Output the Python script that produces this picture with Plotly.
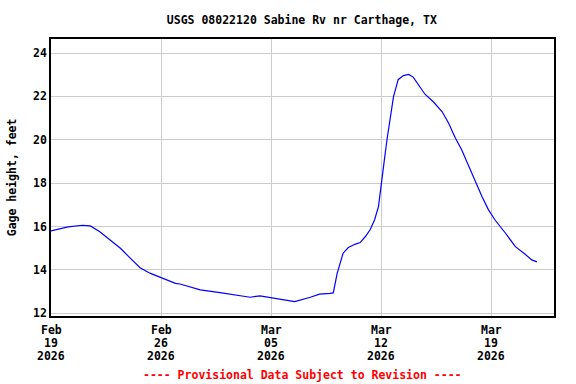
import plotly.graph_objects as go

times = [
    "2026-02-19 00:00", "2026-02-19 14:00", "2026-02-20 02:00", "2026-02-21 00:00",
    "2026-02-21 12:00", "2026-02-22 02:00", "2026-02-22 18:00", "2026-02-23 10:00",
    "2026-02-24 01:00", "2026-02-24 16:00", "2026-02-25 07:00", "2026-02-25 23:00",
    "2026-02-26 22:00", "2026-02-27 05:00", "2026-02-28 12:00", "2026-03-01 18:00",
    "2026-03-03 00:00", "2026-03-03 16:00", "2026-03-04 07:00", "2026-03-05 14:00",
    "2026-03-06 12:00", "2026-03-07 12:00", "2026-03-08 02:00", "2026-03-08 18:00",
    "2026-03-08 23:00", "2026-03-09 05:00", "2026-03-09 10:00", "2026-03-09 14:00",
    "2026-03-09 22:00", "2026-03-10 08:00", "2026-03-10 16:00", "2026-03-11 00:00",
    "2026-03-11 07:00", "2026-03-11 14:00", "2026-03-11 20:00", "2026-03-12 01:00",
    "2026-03-12 05:00", "2026-03-12 09:00", "2026-03-12 14:00", "2026-03-12 19:00",
    "2026-03-13 00:00", "2026-03-13 02:00", "2026-03-13 10:00", "2026-03-13 18:00",
    "2026-03-14 01:00", "2026-03-14 09:00", "2026-03-14 19:00", "2026-03-15 08:00",
    "2026-03-15 21:00", "2026-03-16 07:00", "2026-03-16 17:00", "2026-03-17 03:00",
    "2026-03-17 13:00", "2026-03-18 00:00", "2026-03-18 10:00", "2026-03-18 20:00",
    "2026-03-19 06:00", "2026-03-19 22:00", "2026-03-20 13:00", "2026-03-21 04:00",
    "2026-03-21 14:00", "2026-03-21 22:00",
]
gage_ft = [
    15.80, 15.88, 15.98, 16.06,
    16.03, 15.77, 15.38, 15.00,
    14.54, 14.10, 13.85, 13.66,
    13.38, 13.35, 13.08, 12.95,
    12.80, 12.74, 12.80, 12.65,
    12.54, 12.74, 12.88, 12.92,
    12.94, 13.85, 14.31, 14.77,
    15.03, 15.18, 15.26, 15.54,
    15.84, 16.30, 16.92, 18.00,
    19.07, 20.00, 20.92, 22.00,
    22.54, 22.77, 22.96, 23.01,
    22.89, 22.54, 22.10, 21.74,
    21.30, 20.77, 20.10, 19.54,
    18.84, 18.07, 17.38, 16.77,
    16.30, 15.69, 15.07, 14.72,
    14.46, 14.37,
]

tick_dates = ["2026-02-19", "2026-02-26", "2026-03-05", "2026-03-12", "2026-03-19"]
tick_month = ["Feb", "Feb", "Mar", "Mar", "Mar"]
tick_day = ["19", "26", "05", "12", "19"]
tick_year = ["2026", "2026", "2026", "2026", "2026"]
y_ticks = [12, 14, 16, 18, 20, 22, 24]

FONT = "DejaVu Sans Mono"
FS = 11.5

fig = go.Figure()
fig.add_trace(go.Scatter(x=times, y=gage_ft, mode="lines",
                         line=dict(color="#0000FF", width=1.2), showlegend=False))

annotations = []
for d, m, dd, yy in zip(tick_dates, tick_month, tick_day, tick_year):
    for txt, shift in ((m, -14), (dd, -27), (yy, -40)):
        annotations.append(dict(text="<b>%s</b>" % txt, xref="x", yref="paper",
                                x=d, y=0, yshift=shift, xanchor="center",
                                yanchor="middle", showarrow=False,
                                font=dict(family=FONT, size=FS, color="black")))
annotations.append(dict(text="<b>Gage height, feet</b>", xref="paper", yref="paper",
                        x=-0.078, y=0.5, xanchor="center", yanchor="middle",
                        textangle=-90, showarrow=False,
                        font=dict(family=FONT, size=FS, color="black")))
annotations.append(dict(text="<b>---- Provisional Data Subject to Revision ----</b>",
                        xref="paper", yref="paper", x=0.5, y=0, yshift=-59,
                        xanchor="center", yanchor="middle", showarrow=False,
                        font=dict(family=FONT, size=FS, color="red")))

fig.update_layout(
    width=576, height=384,
    margin=dict(l=51, r=22, t=39, b=68),
    paper_bgcolor="white", plot_bgcolor="white",
    font=dict(family=FONT, size=FS, color="black"),
    title=dict(text="<b>USGS 08022120 Sabine Rv nr Carthage, TX</b>",
               x=0.524, xanchor="center", y=0.948, yanchor="middle",
               font=dict(family=FONT, size=FS, color="black")),
    xaxis=dict(range=["2026-02-19 00:00", "2026-03-23 00:00"],
               tickvals=tick_dates, showticklabels=False, automargin=False,
               showgrid=True, gridcolor="#cccccc", gridwidth=1,
               showline=True, linecolor="black", linewidth=1.5, mirror=True,
               ticks="", zeroline=False),
    yaxis=dict(range=[11.875, 24.646], tickvals=y_ticks, automargin=False,
               ticktext=["<b>%d</b>" % v for v in y_ticks],
               showgrid=True, gridcolor="#cccccc", gridwidth=1,
               showline=True, linecolor="black", linewidth=1.5, mirror=True,
               ticks="", zeroline=False),
    annotations=annotations,
)

fig.write_html("out.html", config={"displayModeBar": False},
               post_script="document.body.style.margin='0';")
